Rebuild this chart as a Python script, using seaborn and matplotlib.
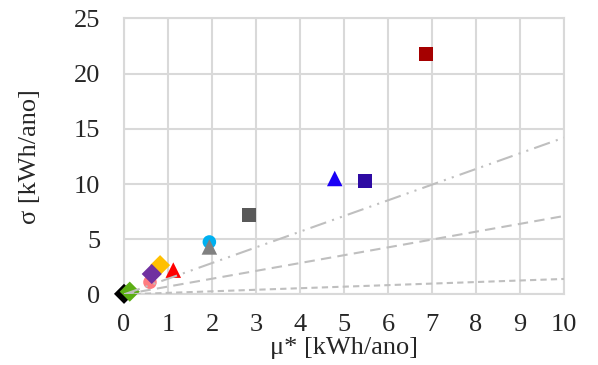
import pandas as pd
import numpy as np
import matplotlib
matplotlib.use('Agg')
import matplotlib.pyplot as plt
import seaborn as sns

# values
mu_star = [6.86, 4.79, 5.48, 2.84, 1.94, 1.94, 1.12, 0.59, 0.82, 0.63, 0.0, 0.13]
sigma = [21.8, 10.5, 10.3, 7.2, 4.75, 4.3, 2.2, 1.1, 2.65, 1.85, 0.05, 0.25]
shapes = ['s', '^', 's', 's', 'o', '^', '^', 'o', 'D', 'D', 'D', 'D']
colors = ['#a50000', '#1a00f5', '#2e0ba3', '#595959', '#00b0f0', '#808080',
          '#ff0000', '#ff7c80', '#ffc000', '#7030a0', '#000000', '#5cae14']
point_ids = [f'p{i}' for i in range(len(mu_star))]

# reference lines sigma/mu* ratios
ref_slopes = [1.42, 0.71, 0.14]
ref_styles = [(0, (8, 3, 1, 3, 1, 3)), (0, (5, 3)), (0, (3, 2))]

df = pd.DataFrame({'mu': mu_star, 'sigma': sigma, 'shape': shapes, 'id': point_ids})

sns.set_style('white')
plt.rcParams['font.family'] = ['Liberation Serif', 'DejaVu Serif']

fig = plt.figure(figsize=(5.98, 3.65), dpi=100)
ax = fig.add_axes([0.2074, 0.1934, 0.7356, 0.7562])

sns.scatterplot(data=df, x='mu', y='sigma', hue='id', palette=colors,
                style='shape', markers={'s': 's', '^': '^', 'o': 'o', 'D': 'D'},
                size='shape', sizes={'s': 100, '^': 125, 'o': 95, 'D': 105},
                linewidth=0, legend=False, ax=ax, zorder=3, clip_on=False)

x_ref = np.array([0, 10])
for slope, ls in zip(ref_slopes, ref_styles):
    ax.plot(x_ref, slope * x_ref, color='#bfbfbf', lw=1.5, linestyle=ls, zorder=4)

ax.set_xlim(0, 10)
ax.set_ylim(0, 25)
ax.set_xticks(range(0, 11))
ax.set_yticks(range(0, 26, 5))
ax.grid(True, color='#d9d9d9', lw=1.5)
ax.set_axisbelow(True)
for sp in ax.spines.values():
    sp.set_color('#d9d9d9')
    sp.set_linewidth(1.5)
ax.tick_params(axis='x', length=0, labelsize=19, pad=14)
ax.tick_params(axis='y', length=0, labelsize=19, pad=17)
ax.set_xlabel('μ* [kWh/ano]', fontsize=19, labelpad=1)
ax.set_ylabel('σ [kWh/ano]', fontsize=19, labelpad=24)

fig.savefig('out.png', dpi=100)
